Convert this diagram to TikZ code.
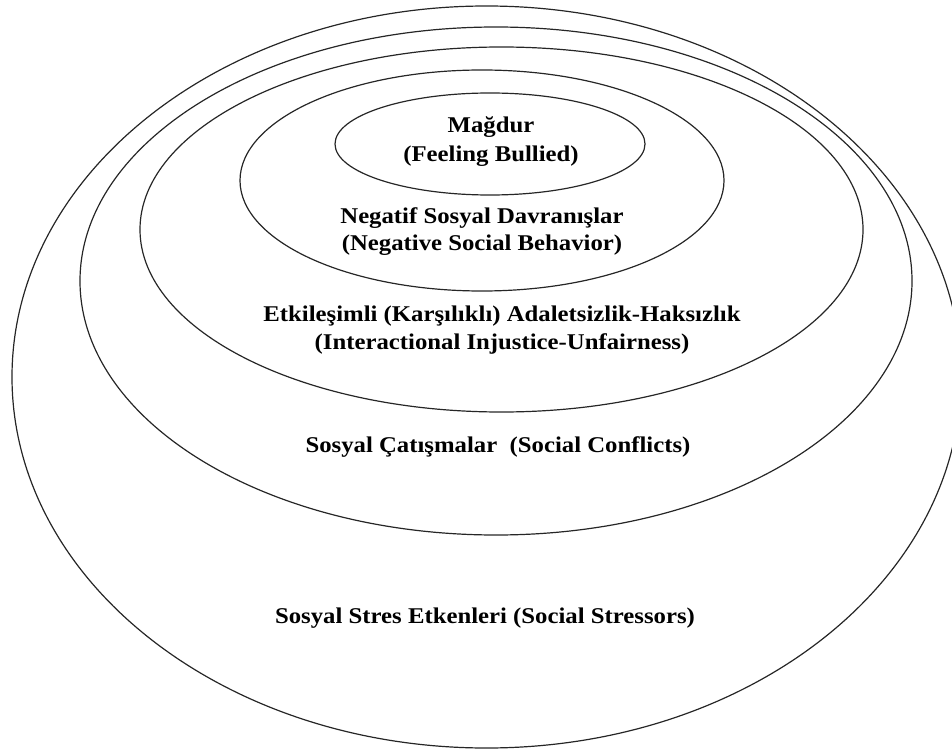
\documentclass[tikz,border=0pt]{standalone}
\usepackage{fontspec}
\setmainfont{Liberation Serif}[FakeStretch=1.1]
\begin{document}
\begin{tikzpicture}[x=1pt,y=-1pt,
  ring/.style={draw=black!85,line width=1.2pt},
  lbl/.style={anchor=base,inner sep=0pt,font=\fontsize{22.5}{28}\selectfont\bfseries}]
\useasboundingbox (0,0) rectangle (952,751);
\clip (0,0) rectangle (952,751);
% rings
\draw[ring] (486.5,377) ellipse [x radius=474.5pt,y radius=371pt];
\draw[ring] (496,281) ellipse [x radius=416pt,y radius=254pt];
\draw[ring] (501.5,229.5) ellipse [x radius=361.5pt,y radius=182.5pt];
\draw[ring] (482,180.5) ellipse [x radius=242pt,y radius=110.5pt];
\draw[ring] (490,144) ellipse [x radius=155pt,y radius=51pt];
% labels
\node[lbl] (m1) at (491,133) {Mağdur};
\node[lbl] (m2) at (491,162) {(Feeling Bullied)};
\node[lbl] (n1) at (482,224) {Negatif Sosyal Davranışlar};
\node[lbl] (n2) at (482,251) {(Negative Social Behavior)};
\node[lbl] (e1) at (502,321) {Etkileşimli (Karşılıklı) Adaletsizlik-Haksızlık};
\node[lbl] (e2) at (502,349) {(Interactional Injustice-Unfairness)};
\node[lbl] (c1) at (498,452) {Sosyal Çatışmalar\ \ (Social Conflicts)};
\node[lbl] (s1) at (485,623) {Sosyal Stres Etkenleri (Social Stressors)};
\end{tikzpicture}
\end{document}
